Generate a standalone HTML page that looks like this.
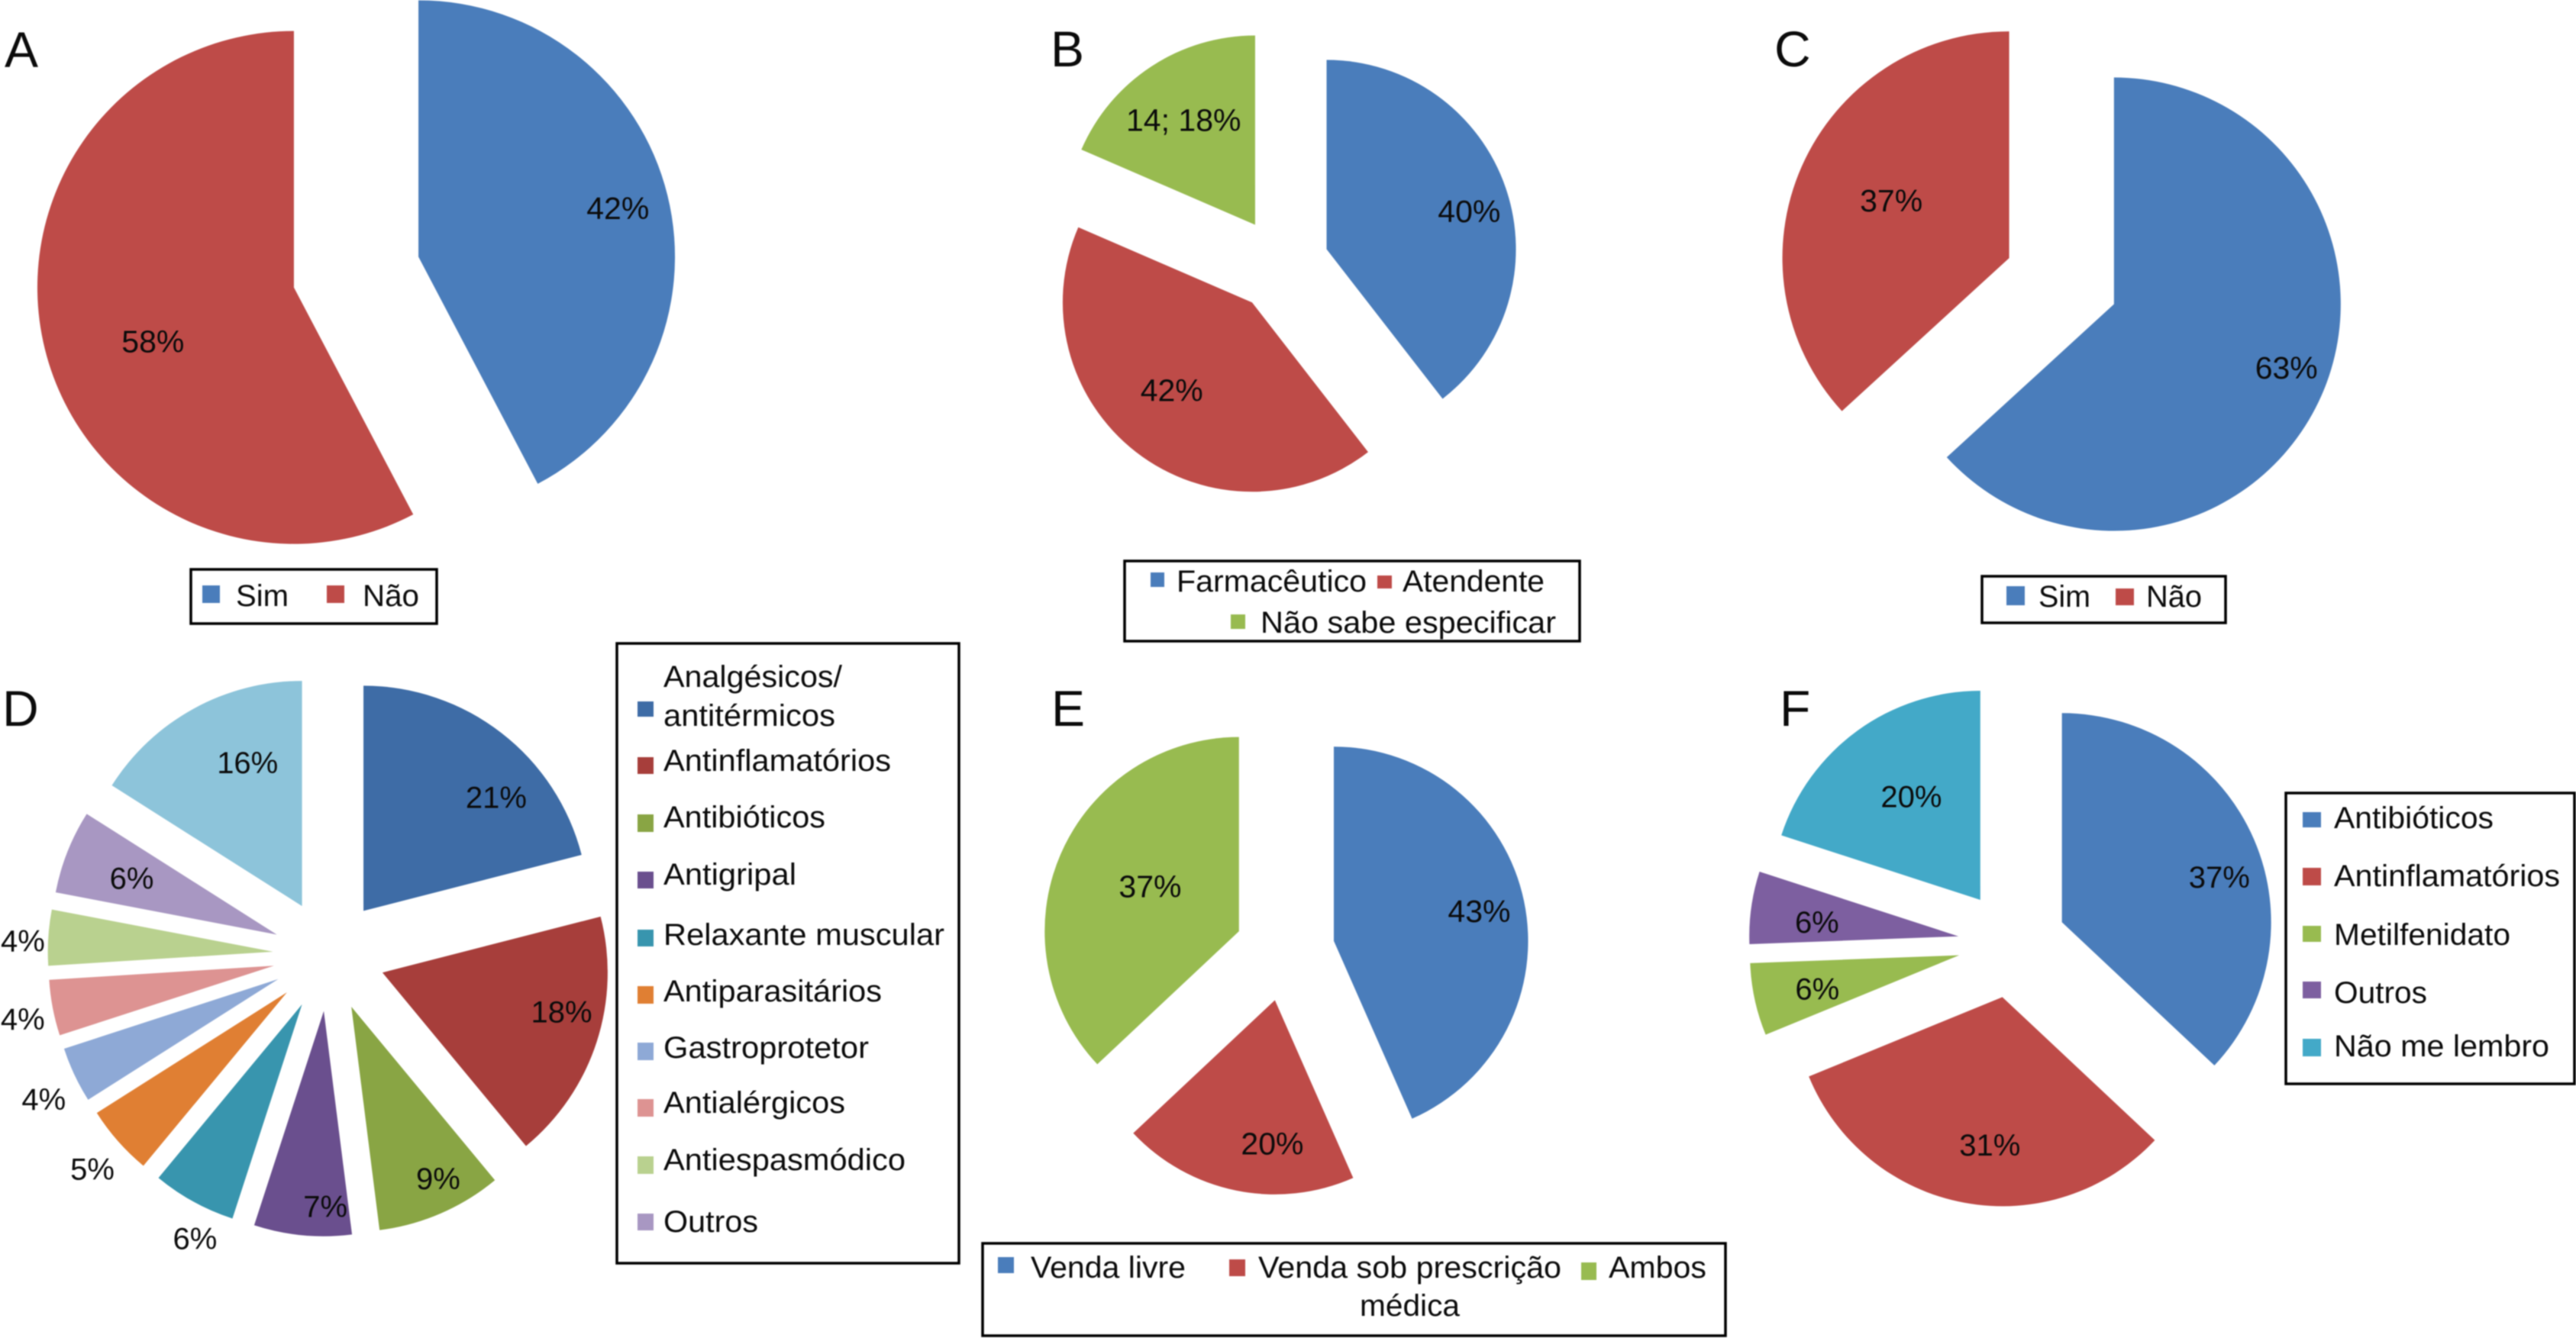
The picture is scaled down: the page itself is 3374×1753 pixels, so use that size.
<!DOCTYPE html>
<html lang="pt">
<head>
<meta charset="utf-8">
<title>Gráficos de setores A–F</title>
<style>
  html, body { margin: 0; padding: 0; background: #fff; }
  svg { display: block; filter: blur(0.7px); }
  text { font-family: "Liberation Sans", sans-serif; fill: #0b0b0b; }
  .letter { font-size: 66px; }
  .legend-text { font-size: 40px; }
  .box { fill: #fff; stroke: #000; stroke-width: 3.5; }
</style>
</head>
<body>
<svg id="figure" xmlns="http://www.w3.org/2000/svg" width="3374" height="1753" viewBox="0 0 3374 1753">
  <rect x="0" y="0" width="3374" height="1753" fill="#fff"/>

  <g id="pies"></g>

  <text class="letter" x="6" y="88">A</text>
  <text class="letter" x="1376" y="87">B</text>
  <text class="letter" x="2324" y="87">C</text>
  <text class="letter" x="3" y="951">D</text>
  <text class="letter" x="1377" y="951">E</text>
  <text class="letter" x="2331" y="951">F</text>

  <g>
    <rect class="box" x="250" y="746" width="322" height="71"/>
    <rect x="265" y="767" width="23" height="23" fill="#4a7dbb"/>
    <text class="legend-text" x="309" y="794" textLength="69" lengthAdjust="spacingAndGlyphs">Sim</text>
    <rect x="428" y="767" width="23" height="23" fill="#be4b48"/>
    <text class="legend-text" x="475" y="794" textLength="74" lengthAdjust="spacingAndGlyphs">Não</text>
  </g>

  <g>
    <rect class="box" x="1473" y="735" width="596" height="105"/>
    <rect x="1507" y="750" width="18" height="19" fill="#4a7dbb"/>
    <text class="legend-text" x="1541" y="775" textLength="249" lengthAdjust="spacingAndGlyphs">Farmacêutico</text>
    <rect x="1804" y="754" width="19" height="17" fill="#be4b48"/>
    <text class="legend-text" x="1837" y="775" textLength="186" lengthAdjust="spacingAndGlyphs">Atendente</text>
    <rect x="1612" y="805" width="19" height="19" fill="#98bb50"/>
    <text class="legend-text" x="1651" y="829" textLength="387" lengthAdjust="spacingAndGlyphs">Não sabe especificar</text>
  </g>

  <g>
    <rect class="box" x="2596" y="755" width="319" height="61"/>
    <rect x="2628" y="768" width="24" height="25" fill="#4a7dbb"/>
    <text class="legend-text" x="2670" y="795" textLength="68" lengthAdjust="spacingAndGlyphs">Sim</text>
    <rect x="2771" y="771" width="24" height="22" fill="#be4b48"/>
    <text class="legend-text" x="2811" y="795" textLength="73" lengthAdjust="spacingAndGlyphs">Não</text>
  </g>

  <g>
    <rect class="box" x="808" y="843" width="448" height="812"/>
    <rect x="835" y="919" width="21" height="20" fill="#3e6ca6"/>
    <text class="legend-text" x="869" y="900" textLength="234" lengthAdjust="spacingAndGlyphs">Analgésicos/</text>
    <text class="legend-text" x="869" y="951" textLength="225" lengthAdjust="spacingAndGlyphs">antitérmicos</text>
    <rect x="835" y="992" width="21" height="22" fill="#a73e3b"/>
    <text class="legend-text" x="869" y="1010" textLength="298" lengthAdjust="spacingAndGlyphs">Antinflamatórios</text>
    <rect x="835" y="1067" width="21" height="23" fill="#89a544"/>
    <text class="legend-text" x="869" y="1084" textLength="212" lengthAdjust="spacingAndGlyphs">Antibióticos</text>
    <rect x="835" y="1142" width="21" height="22" fill="#6a4f8e"/>
    <text class="legend-text" x="869" y="1159" textLength="174" lengthAdjust="spacingAndGlyphs">Antigripal</text>
    <rect x="835" y="1218" width="21" height="22" fill="#3895ae"/>
    <text class="legend-text" x="869" y="1238" textLength="368" lengthAdjust="spacingAndGlyphs">Relaxante muscular</text>
    <rect x="835" y="1292" width="21" height="23" fill="#e07f33"/>
    <text class="legend-text" x="869" y="1312" textLength="286" lengthAdjust="spacingAndGlyphs">Antiparasitários</text>
    <rect x="835" y="1366" width="21" height="23" fill="#8ea9d6"/>
    <text class="legend-text" x="869" y="1386" textLength="269" lengthAdjust="spacingAndGlyphs">Gastroprotetor</text>
    <rect x="835" y="1440" width="21" height="23" fill="#dd9392"/>
    <text class="legend-text" x="869" y="1458" textLength="238" lengthAdjust="spacingAndGlyphs">Antialérgicos</text>
    <rect x="835" y="1515" width="21" height="23" fill="#b9d18f"/>
    <text class="legend-text" x="869" y="1533" textLength="317" lengthAdjust="spacingAndGlyphs">Antiespasmódico</text>
    <rect x="835" y="1590" width="21" height="22" fill="#a897c2"/>
    <text class="legend-text" x="869" y="1614" textLength="124" lengthAdjust="spacingAndGlyphs">Outros</text>
  </g>

  <g>
    <rect class="box" x="1287" y="1629" width="973" height="121"/>
    <rect x="1307" y="1647" width="21" height="21" fill="#4a7dbb"/>
    <text class="legend-text" x="1350" y="1674" textLength="203" lengthAdjust="spacingAndGlyphs">Venda livre</text>
    <rect x="1610" y="1650" width="21" height="22" fill="#be4b48"/>
    <text class="legend-text" x="1648" y="1674" textLength="397" lengthAdjust="spacingAndGlyphs">Venda sob prescrição</text>
    <text class="legend-text" x="1781" y="1724" textLength="131" lengthAdjust="spacingAndGlyphs">médica</text>
    <rect x="2071" y="1654" width="20" height="23" fill="#98bb50"/>
    <text class="legend-text" x="2107" y="1674" textLength="128" lengthAdjust="spacingAndGlyphs">Ambos</text>
  </g>

  <g>
    <rect class="box" x="2994" y="1039" width="378" height="381"/>
    <rect x="3016" y="1064" width="24" height="20" fill="#4a7dbb"/>
    <text class="legend-text" x="3057" y="1085" textLength="209" lengthAdjust="spacingAndGlyphs">Antibióticos</text>
    <rect x="3016" y="1137" width="24" height="23" fill="#be4b48"/>
    <text class="legend-text" x="3057" y="1161" textLength="296" lengthAdjust="spacingAndGlyphs">Antinflamatórios</text>
    <rect x="3016" y="1213" width="24" height="21" fill="#98bb50"/>
    <text class="legend-text" x="3057" y="1238" textLength="231" lengthAdjust="spacingAndGlyphs">Metilfenidato</text>
    <rect x="3016" y="1286" width="24" height="22" fill="#7d5fa0"/>
    <text class="legend-text" x="3057" y="1314" textLength="122" lengthAdjust="spacingAndGlyphs">Outros</text>
    <rect x="3016" y="1361" width="24" height="23" fill="#43a9c8"/>
    <text class="legend-text" x="3057" y="1384" textLength="282" lengthAdjust="spacingAndGlyphs">Não me lembro</text>
  </g>
</svg>

<script>
const categoriesA = ['Sim', 'Não'];
const valuesA = [42.3, 57.7];
const labelsA = ['42%', '58%'];

const categoriesB = ['Farmacêutico', 'Atendente', 'Não sabe especificar'];
const valuesB = [39.5, 42, 18.5];
const labelsB = ['40%', '42%', '14; 18%'];

const categoriesC = ['Sim', 'Não'];
const valuesC = [63.2, 36.8];
const labelsC = ['63%', '37%'];

const categoriesD = ['Analgésicos/antitérmicos', 'Antinflamatórios', 'Antibióticos', 'Antigripal', 'Relaxante muscular', 'Antiparasitários', 'Gastroprotetor', 'Antialérgicos', 'Antiespasmódico', 'Outros', 'Outros medicamentos'];
const valuesD = [21, 18, 9, 7, 6, 5, 4, 4, 4, 6, 16];
const labelsD = ['21%', '18%', '9%', '7%', '6%', '5%', '4%', '4%', '4%', '6%', '16%'];

const categoriesE = ['Venda livre', 'Venda sob prescrição médica', 'Ambos'];
const valuesE = [43.4, 19.6, 37];
const labelsE = ['43%', '20%', '37%'];

const categoriesF = ['Antibióticos', 'Antinflamatórios', 'Metilfenidato', 'Outros', 'Não me lembro'];
const valuesF = [37, 31.8, 5.6, 5.6, 20];
const labelsF = ['37%', '31%', '6%', '6%', '20%'];

// Styling: slice colours.
const coloursStandard = ['#4a7dbb', '#be4b48', '#98bb50', '#7d5fa0', '#43a9c8'];
const coloursD = ['#3e6ca6', '#a73e3b', '#89a544', '#6a4f8e', '#3895ae', '#e07f33', '#8ea9d6', '#dd9392', '#b9d18f', '#a897c2', '#8dc4da'];

const svgNS = 'http://www.w3.org/2000/svg';
const piesLayer = document.getElementById('pies');

// Axis function: percentage share -> clockwise angle from north, in radians.
function shareToAngle(share, total) {
  return (share / total) * 2 * Math.PI;
}

function polar(cx, cy, radius, angle) {
  return [cx + radius * Math.sin(angle), cy - radius * Math.cos(angle)];
}

function drawPie(panel, categories, values, labels, colours, geometry, labelNudge) {
  const total = values.reduce(function (a, b) { return a + b; }, 0);
  let running = 0;
  values.forEach(function (value, i) {
    const start = shareToAngle(running, total);
    const end = shareToAngle(running + value, total);
    const mid = (start + end) / 2;
    running += value;

    const apex = polar(geometry.cx, geometry.cy, geometry.explode, mid);
    const p0 = polar(apex[0], apex[1], geometry.r, start);
    const p1 = polar(apex[0], apex[1], geometry.r, end);
    const large = end - start > Math.PI ? 1 : 0;

    const slice = document.createElementNS(svgNS, 'path');
    slice.setAttribute('d', 'M' + apex[0] + ' ' + apex[1] + ' L' + p0[0] + ' ' + p0[1] +
      ' A' + geometry.r + ' ' + geometry.r + ' 0 ' + large + ' 1 ' + p1[0] + ' ' + p1[1] + ' Z');
    slice.setAttribute('fill', colours[i]);
    
    
    slice.setAttribute('data-panel', panel);
    slice.setAttribute('data-category', categories[i]);
    piesLayer.appendChild(slice);
  });

  running = 0;
  values.forEach(function (value, i) {
    const mid = shareToAngle(running + value / 2, total);
    running += value;
    const anchor = polar(geometry.cx, geometry.cy, geometry.explode + 0.6 * geometry.r, mid);
    const nudge = labelNudge[i];
    const label = document.createElementNS(svgNS, 'text');
    label.setAttribute('x', anchor[0] + nudge[0]);
    label.setAttribute('y', anchor[1] + nudge[1] + 14.5);
    label.setAttribute('text-anchor', 'middle');
    label.setAttribute('font-size', geometry.font);
    
    
    label.setAttribute('data-panel', panel);
    label.textContent = labels[i];
    piesLayer.appendChild(label);
  });
}

drawPie('a', categoriesA, valuesA, labelsA, coloursStandard,
  { cx: 466.5, cy: 356.5, r: 336, explode: 84, font: 41 },
  [[65.5, -15.4], [11.1, 22]]);

drawPie('b', categoriesB, valuesB, labelsB, coloursStandard,
  { cx: 1678.3, cy: 346.8, r: 248, explode: 62.6, font: 41 },
  [[46, -2], [-14, -3], [-12, -13.2]]);

drawPie('c', categoriesC, valuesC, labelsC, [coloursStandard[0], coloursStandard[1]],
  { cx: 2700.2, cy: 368.3, r: 297, explode: 75, font: 41 },
  [[62.8, 11], [8.7, -4]]);

drawPie('d', categoriesD, valuesD, labelsD, coloursD,
  { cx: 431, cy: 1251.5, r: 295, explode: 73.5, font: 40 },
  [[65.4, -9.8], [66.3, -3.8], [43.4, 62], [18.7, 78.9], [-54.9, 151.2], [-122.1, 113.9],
   [-147.1, 81.3], [-155.1, 36], [-151.1, -3.8], [-25.5, -9.3], [13.9, -33.7]]);

drawPie('e', categoriesE, valuesE, labelsE, [coloursStandard[0], coloursStandard[1], coloursStandard[2]],
  { cx: 1682.9, cy: 1246.2, r: 254.5, explode: 65.5, font: 41 },
  [[41, -7.7], [27.1, 38], [23.8, 1.6]]);

drawPie('f', categoriesF, valuesF, labelsF, [coloursStandard[0], coloursStandard[1], coloursStandard[2], coloursStandard[3], coloursStandard[4]],
  { cx: 2635.5, cy: 1236.5, r: 274, explode: 71, font: 40 },
  [[55.2, 5.6], [13.4, 31.7], [-25.2, 8.4], [-22.5, 3.2], [6.3, -3.1]]);
</script>
</body>
</html>
